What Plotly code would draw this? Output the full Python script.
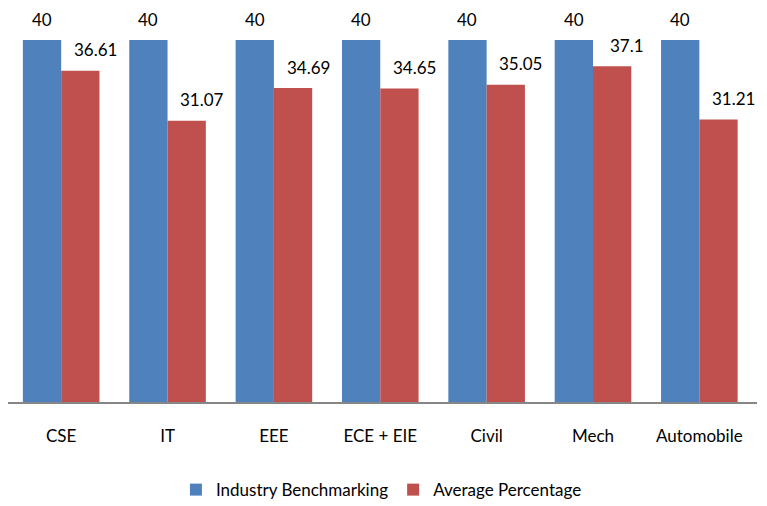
import plotly.graph_objects as go

categories = ["CSE", "IT", "EEE", "ECE + EIE", "Civil", "Mech", "Automobile"]
industry_benchmarking = [40, 40, 40, 40, 40, 40, 40]
average_percentage = [36.61, 31.07, 34.69, 34.65, 35.05, 37.1, 31.21]

FONT = "Lato"
FS = 17
BLUE = "#4F81BD"
RED = "#C0504D"
BARGAP = 0.28

fig = go.Figure()
fig.add_trace(go.Bar(name="Industry Benchmarking", x=categories, y=industry_benchmarking,
                     marker=dict(color=BLUE, line=dict(width=0))))
fig.add_trace(go.Bar(name="Average Percentage", x=categories, y=average_percentage,
                     marker=dict(color=RED, line=dict(width=0))))

half = (1 - BARGAP) / 4
annotations = []
for i, (a, b) in enumerate(zip(industry_benchmarking, average_percentage)):
    for off, v, xs in ((-half, a, 0), (half, b, 15)):
        annotations.append(dict(x=i + off, y=v, xref="x", yref="y", text=f"{v:g}",
                                showarrow=False, yshift=21, xshift=xs, yanchor="middle",
                                font=dict(family=FONT, size=FS, color="#000000")))

# The page body adds an 8px offset, so the figure is sized 8px smaller.
fig.update_layout(
    barmode="group", bargap=BARGAP, bargroupgap=0,
    width=759, height=498,
    margin=dict(l=0, r=10, t=32, b=104, autoexpand=False),
    paper_bgcolor="white", plot_bgcolor="white",
    font=dict(family=FONT, size=FS, color="#000000"),
    showlegend=True,
    legend=dict(orientation="h", x=0.492, xanchor="center", xref="container",
                y=0.032, yanchor="middle", yref="container",
                font=dict(family=FONT, size=FS, color="#000000"),
                itemwidth=30, traceorder="normal"),
    annotations=annotations,
)
fig.update_xaxes(showline=True, linecolor="#868686", linewidth=1.5, ticks="", automargin=False,
                 tickfont=dict(family=FONT, size=FS, color="#000000"), ticklabelstandoff=18)
fig.update_yaxes(range=[0, 40], visible=False, showgrid=False, zeroline=False, automargin=False)

fig.write_html("out.html")
